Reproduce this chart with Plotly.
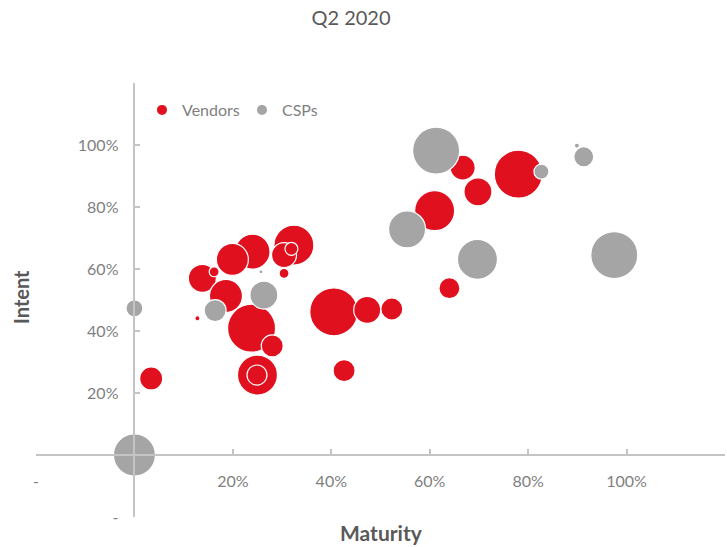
import plotly.graph_objects as go

# ---- data ----
vendor_maturity = [0.034, 0.138, 0.162, 0.324, 0.304, 0.319, 0.240, 0.199, 0.304,
                   0.186, 0.128, 0.238, 0.280, 0.250, 0.249, 0.405, 0.473, 0.523,
                   0.640, 0.426, 0.610, 0.667, 0.698, 0.780]
vendor_intent = [0.247, 0.570, 0.591, 0.677, 0.645, 0.665, 0.656, 0.631, 0.586,
                 0.513, 0.441, 0.409, 0.352, 0.258, 0.258, 0.462, 0.468, 0.471,
                 0.538, 0.272, 0.788, 0.927, 0.849, 0.906]
vendor_size = [23.0, 34.0, 4.3, 69.4, 27.1, 7.3, 53.2, 44.4, 4.3,
               47.3, 1.1, 100.0, 21.0, 69.4, 17.4, 100.0, 31.6, 21.0,
               19.1, 21.0, 69.4, 27.1, 34.0, 100.0]

csp_maturity = [0.000, 0.000, 0.164, 0.257, 0.263, 0.554, 0.613, 0.697, 0.827, 0.899, 0.913, 0.975]
csp_intent = [0.000, 0.473, 0.466, 0.591, 0.516, 0.728, 0.982, 0.631, 0.914, 0.998, 0.962, 0.645]
csp_size = [76.6, 12.5, 21.0, 0.7, 34.0, 59.4, 95.9, 69.4, 9.8, 1.1, 17.4, 95.9]

x_ticks = [-0.2, 0.0, 0.2, 0.4, 0.6, 0.8, 1.0, 1.2]
x_tick_text = ["-", "", "20%", "40%", "60%", "80%", "100%", ""]
y_ticks = [-0.2, 0.0, 0.2, 0.4, 0.6, 0.8, 1.0, 1.2]
y_tick_text = ["-", "", "20%", "40%", "60%", "80%", "100%", ""]

# ---- styling ----
RED = "#E0101F"
GRAY = "#A5A5A5"
AXIS = "#C4C4C4"
TXT = "#7F7F7F"
DARK = "#595959"
FONT = "Lato"
MAX_D = 48
sizeref = 2.0 * max(max(vendor_size), max(csp_size)) / (MAX_D ** 2)

fig = go.Figure()
fig.add_trace(go.Scatter(
    x=vendor_maturity, y=vendor_intent, mode="markers", name="Vendors",
    marker=dict(size=vendor_size, sizemode="area", sizeref=sizeref, color=RED,
                opacity=1, line=dict(color="white", width=1.2)),
    cliponaxis=False, legend="legend",
))
fig.add_trace(go.Scatter(
    x=csp_maturity, y=csp_intent, mode="markers", name="CSPs",
    marker=dict(size=csp_size, sizemode="area", sizeref=sizeref, color=GRAY,
                opacity=1, line=dict(color="white", width=1.2)),
    cliponaxis=False, legend="legend2",
))

L, R, T, B = 36, 2, 83, 30
W, H = 727, 547
pw, ph = W - L - R, H - T - B
zero_frac = 0.2 / 1.4


def legend_at(dot_px, dot_py):
    # plotly places the legend symbol ~20px right of the legend's left edge
    return dict(orientation="h", x=(dot_px - 20 - L) / pw, xanchor="left",
                y=(H - B - dot_py) / ph, yanchor="middle",
                bgcolor="rgba(0,0,0,0)", itemsizing="constant",
                font=dict(family=FONT, size=16, color=TXT),
                itemwidth=30, borderwidth=0)


fig.update_layout(
    width=W, height=H,
    margin=dict(l=L, r=R, t=T, b=B, pad=0),
    paper_bgcolor="white", plot_bgcolor="white",
    font=dict(family=FONT, color=TXT, size=16),
    title=dict(text="Q2 2020", x=351 / W, xanchor="center", y=1 - 18 / H, yanchor="middle",
               font=dict(family=FONT, size=20, color=DARK)),
    showlegend=True,
    legend=legend_at(162, 110),
    legend2=legend_at(262, 110),
    xaxis=dict(range=[-0.2, 1.2], showgrid=False, zeroline=False,
               showline=True, linecolor=AXIS, linewidth=1.5,
               anchor="free", position=zero_frac,
               ticks="inside", ticklen=5, tickcolor=AXIS, tickwidth=1.5,
               tickmode="array", tickvals=x_ticks, ticktext=x_tick_text,
               ticklabelstandoff=12,
               tickfont=dict(family=FONT, size=16, color=TXT)),
    yaxis=dict(range=[-0.2, 1.2], showgrid=False, zeroline=False,
               showline=True, linecolor=AXIS, linewidth=1.5,
               anchor="free", position=zero_frac,
               ticks="inside", ticklen=5, tickcolor=AXIS, tickwidth=1.5,
               tickmode="array", tickvals=y_ticks, ticktext=y_tick_text,
               ticklabelstandoff=12,
               tickfont=dict(family=FONT, size=16, color=TXT)),
    annotations=[
        dict(text="<b>Maturity</b>", xref="paper", yref="paper",
             x=(381 - L) / pw, y=(H - B - 532) / ph, xanchor="center", yanchor="middle",
             showarrow=False, font=dict(family=FONT, size=21, color=DARK)),
        dict(text="<b>Intent</b>", xref="paper", yref="paper",
             x=(21 - L) / pw, y=(H - B - 297) / ph, xanchor="center", yanchor="middle",
             textangle=-90, showarrow=False, font=dict(family=FONT, size=20, color=DARK)),
    ],
)

fig.write_html("out.html", config={"displayModeBar": False},
               post_script="document.body.style.margin='0';")
